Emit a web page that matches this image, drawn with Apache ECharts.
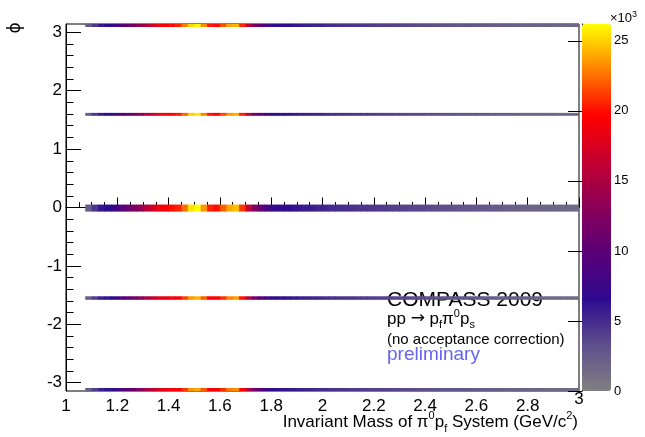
<!DOCTYPE html>
<html><head><meta charset="utf-8">
<script src="https://cdn.jsdelivr.net/npm/echarts@6/dist/echarts.min.js"></script>
<style>html,body{margin:0;padding:0;background:#fff}#c{width:645px;height:437px}</style>
</head><body><div id="c"></div>
<script>
// Mass bins (GeV/c^2): first lower edge and width
const massStart = 1.075;
const massStep = 0.025;
// Phi bins (rad) holding the bands: [low, high]
const phiBins = [[3.09, 3.1416], [1.57, 1.62], [-0.07, 0.05], [-1.58, -1.52], [-3.1416, -3.09]];
// Counts (x10^3) per mass bin, for each phi band
const countsPhiPi = [2.4, 4.3, 5.9, 6.6, 7.4, 8.8, 10.3, 11.8, 13.6, 15.3, 16.9, 18.6, 19.4, 19.9, 20.6, 22.8, 25.3, 26.0, 23.2, 20.3, 19.8, 21.7, 23.9, 24.3, 20.6, 16.2, 12.3, 9.8, 7.9, 6.9, 6.4, 6.4, 6.1, 5.9, 5.7, 5.5, 5.4, 5.1, 4.9, 4.9, 4.7, 4.6, 4.5, 4.4, 4.3, 4.2, 4.1, 4.0, 3.9, 3.8, 3.8, 3.6, 3.5, 3.4, 3.3, 3.3, 3.1, 3.0, 2.9, 2.9, 2.8, 2.7, 2.6, 2.5, 2.4, 2.3, 2.2, 2.1, 2.0, 2.0, 1.9, 1.8, 1.8, 1.7, 1.7, 1.6, 1.6];
const countsPhiHalfPi = [2.5, 4.4, 5.8, 6.4, 7.3, 8.7, 10.1, 11.6, 13.3, 15.1, 16.6, 18.2, 19.2, 19.7, 20.2, 22.1, 24.9, 25.6, 23.0, 20.1, 19.6, 21.4, 23.5, 24.1, 20.4, 16.0, 12.1, 9.6, 7.8, 6.8, 6.3, 6.3, 6.0, 5.8, 5.6, 5.4, 5.3, 5.0, 4.9, 4.8, 4.6, 4.6, 4.4, 4.3, 4.3, 4.1, 4.1, 3.9, 3.8, 3.8, 3.7, 3.6, 3.5, 3.4, 3.3, 3.2, 3.1, 3.0, 2.9, 2.8, 2.8, 2.7, 2.6, 2.5, 2.4, 2.3, 2.2, 2.1, 2.0, 2.0, 1.9, 1.8, 1.8, 1.7, 1.7, 1.6, 1.6];
const countsPhi0 = [2.5, 4.5, 6.0, 6.5, 7.5, 9.0, 10.5, 12.0, 13.5, 15.5, 17.0, 18.5, 19.5, 20.0, 20.5, 22.5, 25.5, 26.2, 23.5, 20.5, 20.0, 22.0, 24.0, 24.5, 21.0, 16.5, 12.5, 10.0, 8.0, 7.0, 6.5, 6.5, 6.2, 6.0, 5.8, 5.6, 5.3, 5.2, 5.0, 4.9, 4.8, 4.7, 4.6, 4.5, 4.4, 4.3, 4.2, 4.1, 4.0, 3.9, 3.8, 3.7, 3.6, 3.5, 3.4, 3.3, 3.2, 3.1, 3.0, 2.9, 2.8, 2.7, 2.6, 2.5, 2.4, 2.3, 2.2, 2.1, 2.0, 1.95, 1.9, 1.85, 1.8, 1.75, 1.7, 1.65, 1.6];
const countsPhiMinusHalfPi = [2.4, 4.2, 5.6, 6.2, 7.0, 8.4, 9.8, 11.2, 12.8, 14.6, 16.0, 17.6, 18.6, 19.2, 19.6, 21.2, 23.6, 24.2, 22.0, 19.5, 19.2, 20.9, 23.0, 23.6, 20.0, 15.6, 11.8, 9.4, 7.6, 6.6, 6.2, 6.1, 5.9, 5.7, 5.5, 5.3, 5.2, 4.9, 4.8, 4.7, 4.6, 4.5, 4.4, 4.3, 4.2, 4.1, 4.0, 3.9, 3.8, 3.7, 3.6, 3.5, 3.4, 3.3, 3.2, 3.1, 3.0, 2.9, 2.9, 2.8, 2.7, 2.6, 2.5, 2.4, 2.3, 2.2, 2.2, 2.1, 2.0, 1.9, 1.9, 1.8, 1.7, 1.7, 1.6, 1.6, 1.5];
const countsPhiMinusPi = [2.3, 4.1, 5.5, 6.1, 6.9, 8.3, 9.6, 11.0, 12.6, 14.4, 15.8, 17.4, 18.4, 19.0, 19.4, 21.0, 23.4, 24.0, 21.8, 19.3, 19.0, 20.8, 22.8, 23.2, 19.7, 15.3, 11.6, 9.2, 7.5, 6.5, 6.1, 6.0, 5.8, 5.6, 5.4, 5.2, 5.1, 4.9, 4.7, 4.6, 4.5, 4.4, 4.3, 4.2, 4.1, 4.0, 3.9, 3.8, 3.7, 3.6, 3.5, 3.4, 3.3, 3.2, 3.1, 3.0, 2.9, 2.9, 2.8, 2.7, 2.6, 2.5, 2.4, 2.3, 2.3, 2.2, 2.1, 2.0, 2.0, 1.9, 1.8, 1.8, 1.7, 1.6, 1.6, 1.5, 1.5];
// Tick values
const yMajorTicks = [-3, -2, -1, 0, 1, 2, 3];
const yMinorTicks = [-3, -2.8, -2.6, -2.4, -2.2, -2, -1.8, -1.6, -1.4, -1.2, -1, -0.8, -0.6, -0.4, -0.2, 0, 0.2, 0.4, 0.6, 0.8, 1, 1.2, 1.4, 1.6, 1.8, 2, 2.2, 2.4, 2.6, 2.8, 3];
const zTicks = [0, 5, 10, 15, 20, 25];
const zMax = 26.2;
const palette = ['#808080', '#5e4f8c', '#2e0a90', '#5a0078', '#8a0058', '#c40030', '#ff0000', '#ff8000', '#ffff00'];

const bands = [countsPhiPi, countsPhiHalfPi, countsPhi0, countsPhiMinusHalfPi, countsPhiMinusPi];
const cells = [];
bands.forEach((arr, b) => {
  arr.forEach((v, i) => {
    cells.push([massStart + i * massStep, massStart + (i + 1) * massStep, phiBins[b][0], phiBins[b][1], v]);
  });
});

const FF = '"Liberation Sans", Arial, sans-serif';
const chart = echarts.init(document.getElementById('c'), null, {renderer: 'canvas'});
chart.setOption({
  animation: false,
  backgroundColor: '#fff',
  grid: [
    {left: 66, top: 24, width: 513, height: 367, show: true, borderColor: '#000', borderWidth: 1, backgroundColor: 'transparent'},
    {left: 582, top: 24, width: 29, height: 367, show: false}
  ],
  xAxis: [
    {gridIndex: 0, type: 'value', min: 1, max: 3, interval: 0.2,
     axisLine: {show: true, lineStyle: {color: '#000', width: 1}},
     axisTick: {show: true, inside: true, length: 10, lineStyle: {color: '#000'}},
     minorTick: {show: true, splitNumber: 4, length: 5.5, lineStyle: {color: '#000'}},
     splitLine: {show: false}, minorSplitLine: {show: false},
     axisLabel: {margin: 7, fontSize: 17, color: '#000', fontFamily: FF, showMaxLabel: false, showMinLabel: true}},
    {gridIndex: 0, type: 'value', min: 1, max: 3, interval: 0.2, position: 'bottom', offset: -7,
     axisLine: {show: false}, axisTick: {show: false}, splitLine: {show: false},
     axisLabel: {margin: 7, fontSize: 17, color: '#000', fontFamily: FF, showMaxLabel: true,
       formatter: v => (Math.abs(v - 3) < 1e-9 ? '3' : '')}},
    {gridIndex: 1, type: 'value', show: false, min: 0, max: 1}
  ],
  yAxis: [
    {gridIndex: 0, type: 'value', min: -Math.PI, max: Math.PI,
     axisLine: {show: true, lineStyle: {color: '#000'}},
     axisTick: {show: true, inside: true, length: 15, customValues: yMajorTicks, lineStyle: {color: '#000'}},
     axisLabel: {margin: 4, fontSize: 17, color: '#000', fontFamily: FF, customValues: yMajorTicks},
     splitLine: {show: false}},
    {gridIndex: 0, type: 'value', min: -Math.PI, max: Math.PI, position: 'left',
     axisLine: {show: false},
     axisTick: {show: true, inside: true, length: 7.5, customValues: yMinorTicks, lineStyle: {color: '#000'}},
     axisLabel: {show: false}, splitLine: {show: false}},
    {gridIndex: 1, type: 'value', min: 0, max: zMax, position: 'right',
     axisLine: {show: true, lineStyle: {color: '#000'}},
     axisTick: {show: true, inside: true, length: 14, customValues: zTicks, lineStyle: {color: '#000'}},
     axisLabel: {margin: 3, fontSize: 13, color: '#000', fontFamily: FF, customValues: zTicks},
     splitLine: {show: false}}
  ],
  visualMap: {
    type: 'continuous', min: 0, max: zMax, dimension: 4, seriesIndex: 0,
    left: 582, top: 24, itemWidth: 29, itemHeight: 367, padding: 0,
    calculable: false, hoverLink: false, realtime: false,
    inRange: {color: palette}
  },
  series: [{
    type: 'custom', xAxisIndex: 0, yAxisIndex: 0, clip: true,
    encode: {x: [0, 1], y: [2, 3]},
    renderItem: function (params, api) {
      const a = api.coord([api.value(0), api.value(3)]);
      const b = api.coord([api.value(1), api.value(2)]);
      return {type: 'rect', shape: {x: a[0], y: a[1], width: b[0] - a[0] + 0.6, height: b[1] - a[1]},
        style: {fill: api.visual('color')}};
    },
    data: cells
  }],
  graphic: [
    {type: 'text', x: 16, y: 28, rotation: Math.PI / 2,
     style: {text: 'ϕ', fontSize: 17, fontFamily: '"DejaVu Sans"', fill: '#000', align: 'center', verticalAlign: 'middle'}},
    {type: 'text', x: 610, y: 10,
     style: {text: '×10{s|3}', fontSize: 13, fontFamily: FF, fill: '#000', lineHeight: 16,
       rich: {s: {fontSize: 9, fontFamily: FF, lineHeight: 9, verticalAlign: 'top'}}}},
    {type: 'text', x: 578, y: 410,
     style: {text: 'Invariant Mass of π{sup|0}p{sub|f} System (GeV/c{sup|2})', fontSize: 17, fontFamily: FF, fill: '#000',
       align: 'right', verticalAlign: 'top', lineHeight: 24,
       rich: {sup: {fontSize: 11, fontFamily: FF, lineHeight: 11, verticalAlign: 'top'},
              sub: {fontSize: 11, fontFamily: FF, lineHeight: 11, verticalAlign: 'bottom'}}}},
    {type: 'text', x: 387, y: 290,
     style: {text: 'COMPASS 2009', fontSize: 21, fontFamily: FF, fill: '#000', verticalAlign: 'top'}},
    {type: 'text', x: 387, y: 308,
     style: {text: 'pp {arr|→} p{sub|f}π{sup|0}p{sub|s}', fontSize: 17, fontFamily: FF, fill: '#000', verticalAlign: 'top', lineHeight: 22,
       rich: {arr: {fontSize: 17, fontFamily: '"DejaVu Sans"', lineHeight: 22},
              sup: {fontSize: 11, fontFamily: FF, lineHeight: 11, verticalAlign: 'top'},
              sub: {fontSize: 11, fontFamily: FF, lineHeight: 11, verticalAlign: 'bottom'}}}},
    {type: 'text', x: 387, y: 332,
     style: {text: '(no acceptance correction)', fontSize: 15, fontFamily: FF, fill: '#000', verticalAlign: 'top'}},
    {type: 'text', x: 387, y: 345,
     style: {text: 'preliminary', fontSize: 19, fontFamily: FF, fill: '#6464f0', verticalAlign: 'top'}}
  ]
});
</script></body></html>
